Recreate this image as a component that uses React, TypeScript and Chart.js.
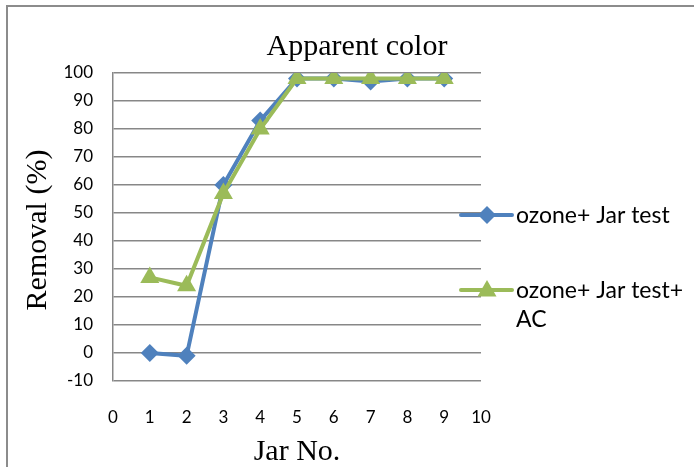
import { useEffect, useRef } from "react";
import { Chart, registerables } from "chart.js";

Chart.register(...registerables);

// Jar test series: apparent colour removal (%) per jar
const jarNumbers = [1, 2, 3, 4, 5, 6, 7, 8, 9];
const ozoneJar = [0, -1, 60, 83, 98, 98, 97, 98, 98];
const ozoneJarAC = [27, 24, 57, 80, 98, 98, 98, 98, 98];
const seriesNames = ["ozone+ Jar test", "ozone+ Jar test+ AC"];
const legendLines = [["ozone+ Jar test"], ["ozone+ Jar test+", "AC"]];
const chartTitle = "Apparent color";
const xTitle = "Jar No.";
const yTitle = "Removal (%)";

const BLUE = "#4F81BD";
const GREEN = "#9BBB59";
const GRID = "#878787";
const SERIF = "'Liberation Serif', 'DejaVu Serif', serif";
const SANS = "Lato, 'Open Sans', sans-serif";

function drawDiamond(ctx: CanvasRenderingContext2D, x: number, y: number, r: number, color: string) {
  ctx.beginPath();
  ctx.moveTo(x, y - r);
  ctx.lineTo(x + r, y);
  ctx.lineTo(x, y + r);
  ctx.lineTo(x - r, y);
  ctx.closePath();
  ctx.fillStyle = color;
  ctx.fill();
}

function drawTriangle(ctx: CanvasRenderingContext2D, x: number, y: number, r: number, color: string) {
  const h = r * Math.cos(Math.PI / 6);
  ctx.beginPath();
  ctx.moveTo(x, y - r);
  ctx.lineTo(x + h, y + r / 2);
  ctx.lineTo(x - h, y + r / 2);
  ctx.closePath();
  ctx.fillStyle = color;
  ctx.fill();
}

// Frame, titles and the right-hand legend
const decorPlugin = {
  id: "decor",
  afterDraw(chart: Chart) {
    const ctx = chart.ctx;
    ctx.save();

    // outer frame (top and left edges)
    ctx.strokeStyle = "#8c8c8c";
    ctx.lineWidth = 2;
    ctx.beginPath();
    ctx.moveTo(7, 467);
    ctx.lineTo(7, 6);
    ctx.lineTo(694, 6);
    ctx.stroke();

    ctx.fillStyle = "#000";
    ctx.textBaseline = "alphabetic";
    ctx.textAlign = "center";
    ctx.font = `30px ${SERIF}`;
    ctx.fillText(chartTitle, 357, 55);
    ctx.fillText(xTitle, 297, 460);

    ctx.save();
    ctx.translate(46, 230);
    ctx.rotate(-Math.PI / 2);
    ctx.fillText(yTitle, 0, 0);
    ctx.restore();

    // legend
    const lx0 = 461;
    const lx1 = 512;
    const items = [
      { y: 215, color: BLUE, lines: legendLines[0], marker: "diamond" },
      { y: 290, color: GREEN, lines: legendLines[1], marker: "triangle" },
    ];
    ctx.textAlign = "left";
    ctx.textBaseline = "middle";
    ctx.font = `23px ${SANS}`;
    for (const it of items) {
      ctx.strokeStyle = it.color;
      ctx.lineWidth = 4;
      ctx.lineCap = "round";
      ctx.beginPath();
      ctx.moveTo(lx0, it.y);
      ctx.lineTo(lx1, it.y);
      ctx.stroke();
      const mx = 487;
      if (it.marker === "diamond") drawDiamond(ctx, mx, it.y, 9, it.color);
      else drawTriangle(ctx, mx, it.y + 1, 11, it.color);
      ctx.fillStyle = "#000";
      it.lines.forEach((t, i) => ctx.fillText(t, 516, it.y + 1 + i * 29));
    }
    ctx.restore();
  },
};

export default function App() {
  const canvasRef = useRef<HTMLCanvasElement | null>(null);

  useEffect(() => {
    const canvas = canvasRef.current;
    if (!canvas) return;
    const chart = new Chart(canvas, {
      type: "scatter",
      data: {
        datasets: [
          {
            label: seriesNames[0],
            data: jarNumbers.map((x, i) => ({ x, y: ozoneJar[i] })),
            showLine: true,
            borderColor: BLUE,
            backgroundColor: BLUE,
            borderWidth: 4,
            pointStyle: "rectRot",
            pointRadius: 9,
            pointBorderWidth: 0,
            order: 1,
          },
          {
            label: seriesNames[1],
            data: jarNumbers.map((x, i) => ({ x, y: ozoneJarAC[i] })),
            showLine: true,
            borderColor: GREEN,
            backgroundColor: GREEN,
            borderWidth: 4,
            pointStyle: "triangle",
            pointRadius: 11,
            pointBorderWidth: 0,
            order: 0,
          },
        ],
      },
      options: {
        animation: false,
        responsive: false,
        layout: { padding: { left: 0, right: 213, top: 73, bottom: 0 } },
        plugins: {
          legend: { display: false },
          tooltip: { enabled: false },
          title: { display: false },
        },
        scales: {
          x: {
            type: "linear",
            min: 0,
            max: 10,
            grid: { display: false, drawTicks: false },
            border: { display: false },
            ticks: {
              stepSize: 1,
              padding: 26,
              color: "#000",
              font: { family: SANS, size: 17 },
              maxRotation: 0,
            },
            afterFit(scale: any) {
              scale.height = 86;
            },
          },
          y: {
            min: -10,
            max: 100,
            grid: { color: GRID, lineWidth: 1.5, drawTicks: false },
            border: { display: true, color: GRID, width: 1.5 },
            ticks: {
              stepSize: 10,
              padding: 20,
              color: "#000",
              font: { family: SANS, size: 17 },
            },
            afterFit(scale: any) {
              scale.width = 113;
            },
          },
        },
      },
      plugins: [decorPlugin],
    });
    return () => chart.destroy();
  }, []);

  return (
    <div style={{ position: "fixed", left: 0, top: 0, width: 694, height: 467, background: "#fff" }}>
      <canvas ref={canvasRef} width={694} height={467} style={{ display: "block" }} />
    </div>
  );
}
